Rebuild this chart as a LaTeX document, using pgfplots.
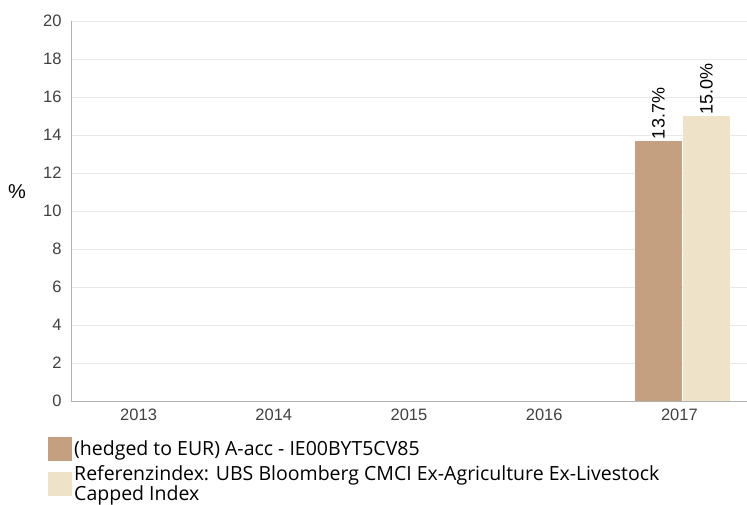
\documentclass[border=0pt]{standalone}
\usepackage{fontspec}
\setmainfont{Liberation Sans}
\newfontfamily\legfont{Open Sans}
\usepackage{pgfplots}
\pgfplotsset{compat=1.18}
\definecolor{fundc}{RGB}{196,160,128}
\definecolor{indexc}{RGB}{238,226,200}
\definecolor{gridc}{RGB}{232,232,232}
\definecolor{axisc}{RGB}{176,176,176}
\definecolor{txtc}{RGB}{64,64,64}
\begin{document}
\begin{tikzpicture}[x=1pt,y=1pt]
\path[use as bounding box] (0,0) rectangle (747,504);
\begin{axis}[
  at={(71pt,103pt)}, anchor=south west,
  scale only axis, width=676pt, height=380pt,
  xmin=-0.5, xmax=4.5, ymin=0, ymax=20,
  ytick={0,2,...,20},
  xtick={0,1,2,3,4},
  xticklabels={2013,2014,2015,2016,2017},
  axis x line*=bottom, axis y line*=left,
  axis line style={axisc, line width=1pt},
  every outer x axis line/.append style={-}, every outer y axis line/.append style={-},
  major tick length=0pt,
  ymajorgrids, grid style={gridc, line width=0.8pt},
  tick label style={font=\fontsize{16.5}{19}\selectfont, text=txtc},
  /pgf/number format/assume math mode=true,
  yticklabel style={xshift=-6pt},
  xticklabel style={yshift=-4pt},
  ylabel={\%}, ylabel style={font=\fontsize{20}{24}\selectfont, text=black, rotate=-90, at={(rel axis cs:0,0.55)}, xshift=-54pt, anchor=center},
  ybar, bar width=47pt,
  legend style={at={(rel axis cs:0,0)}, xshift=-23pt, yshift=-36pt, anchor=north west, draw=none, fill=none, inner sep=0pt,
     font=\legfont\fontsize{19.5}{20.5}\selectfont, text=black,
     cells={anchor=west, align=left}, row sep=2pt},
  legend cell align=left,
  nodes near coords={\pgfmathprintnumber[fixed,fixed zerofill,precision=1]{\pgfplotspointmeta}\%},
  every node near coord/.append style={rotate=90, anchor=west, font=\fontsize{18}{20}\selectfont, text=black, inner sep=1.5pt},
]
\addplot[fill=fundc, draw=none, bar shift=-21pt, legend image code/.code={\fill[fundc] (0pt,-12pt) rectangle (24pt,12pt);}] coordinates {(4,13.7)};
\addplot[fill=indexc, draw=none, bar shift=27pt, legend image code/.code={\fill[indexc] (0pt,-12pt) rectangle (24pt,12pt);}] coordinates {(4,15.0)};
\legend{(hedged to EUR) A-acc - IE00BYT5CV85, Referenzindex: UBS Bloomberg CMCI Ex-Agriculture Ex-Livestock\\Capped Index}
\end{axis}
\end{tikzpicture}
\end{document}
